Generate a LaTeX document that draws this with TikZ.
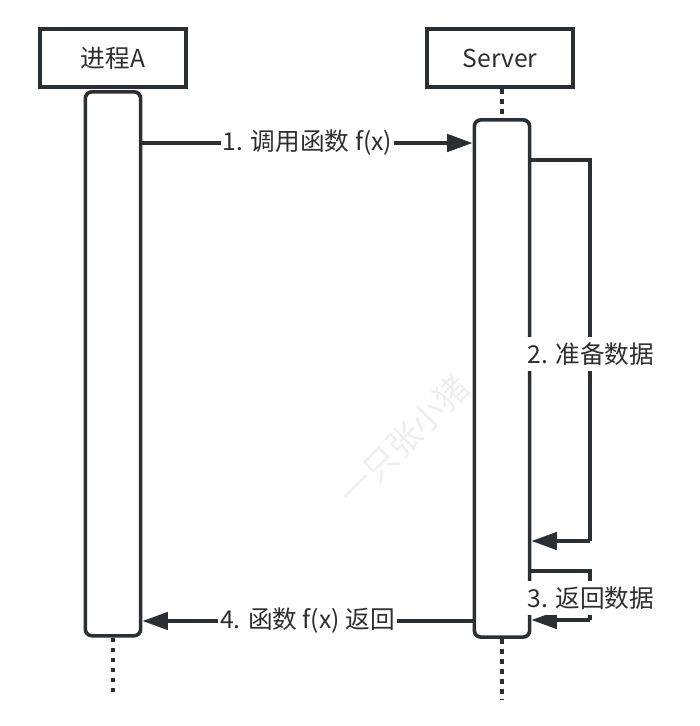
\documentclass[tikz,border=0pt]{standalone}
\usepackage{fontspec}
\setmainfont{Noto Sans CJK SC}
\usepackage{tikz}
\usetikzlibrary{positioning}
\usetikzlibrary{arrows.meta}
\usepackage{xcolor}
\definecolor{linegray}{HTML}{2B2F33}
\definecolor{textgray}{HTML}{2E2E2E}

\tikzset{
	actor/.style={draw=linegray, line width=3.2pt, minimum width=109.5pt, minimum height=43.5pt, text=textgray, font=\fontsize{18.5}{20}\selectfont},
	bar/.style={draw=linegray, line width=2.7pt, rounded corners=5pt, minimum width=41.5pt, fill=white},
	msg/.style={draw=linegray, line width=2.6pt, -{Triangle[length=19pt,width=13pt]}},
	selfcall/.style={draw=linegray, line width=2.6pt},
	lbl/.style={fill=white, text=textgray, inner xsep=1.5pt, inner ysep=4pt, font=\fontsize{18.5}{20}\selectfont},
	life/.style={draw=linegray, line width=3pt, dash pattern=on 3.5pt off 4pt}
}

\begin{document}
\begin{tikzpicture}[x=0.75pt, y=-0.75pt]
		\useasboundingbox (0,0) rectangle (700,726);

		\node[rotate=45, text=gray!13, font=\fontsize{25}{27}\selectfont] (mark) at (404,440){一只张小猪};

		\node[actor](procA) at (113,58){进程A};
		\node[actor](server) at (500,58){Server};

		\node[bar, minimum height=408pt, anchor=north](barA) at (113,90){};
		\node[bar, minimum height=388pt, anchor=north](barS) at (502,118){};

		\coordinate(endA) at (113,694);
		\coordinate(endS) at (502,700);
		\draw[life] (server.south -| barS.north) -- (barS.north);
		\draw[life] (barA.south) -- (endA);
		\draw[life] (barS.south) -- (endS);

		\coordinate(m1) at (0,143);
		\coordinate(m4) at (0,621);

		\coordinate(s2a) at (590,160);
		\coordinate(s2b) at (590,541);
		\coordinate(s3a) at (590,571);
		\coordinate(s3b) at (590,620);

		\draw[msg] (barA.east |- m1) -- (barS.west |- m1) node[lbl, midway]{1. 调用函数 f(x)};
		\draw[selfcall] (barS.east |- s2a) -- (s2a) -- (s2b);
		\draw[msg] (s2b) -- (barS.east |- s2b);
		\draw[selfcall] (barS.east |- s3a) -- (s3a) -- (s3b);
		\draw[msg] (s3b) -- (barS.east |- s3b);
		\draw[msg] (barS.west |- m4) -- (barA.east |- m4) node[lbl, midway]{4. 函数 f(x) 返回};

		\node[lbl](prep) at (591,354){2. 准备数据};
		\node[lbl](back) at (591,598){3. 返回数据};
	\end{tikzpicture}
\end{document}
